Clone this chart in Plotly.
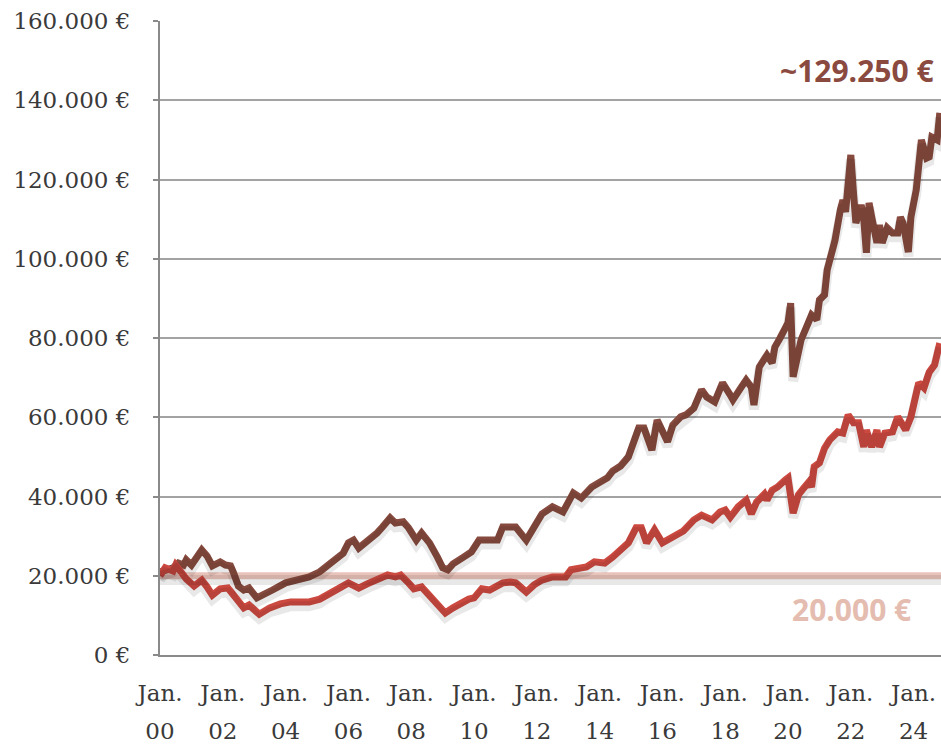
import plotly.graph_objects as go

# ---------------- data ----------------
brown_dates = [
    "2000-01", "2000-03", "2000-06", "2000-08", "2000-10", "2000-11", "2001-01", "2001-05", "2001-07", "2001-09",
    "2001-12", "2002-02", "2002-04", "2002-05", "2002-07", "2002-09", "2002-11", "2003-02", "2003-04", "2003-08",
    "2004-01", "2004-05", "2004-10", "2005-02", "2005-06", "2005-08", "2005-11", "2006-01", "2006-03", "2006-05",
    "2006-09", "2006-12", "2007-02", "2007-05", "2007-07", "2007-10", "2007-12", "2008-03", "2008-05", "2008-08",
    "2008-11", "2009-01", "2009-03", "2009-05", "2009-09", "2009-12", "2010-03", "2010-07", "2010-10", "2010-12",
    "2011-03", "2011-05", "2011-09", "2011-12", "2012-03", "2012-07", "2012-11", "2013-03", "2013-06", "2013-10",
    "2014-02", "2014-04", "2014-06", "2014-09", "2014-12", "2015-02", "2015-04", "2015-06", "2015-07", "2015-09",
    "2015-11", "2016-03", "2016-05", "2016-08", "2016-10", "2017-01", "2017-04", "2017-06", "2017-09", "2017-12",
    "2018-03", "2018-04", "2018-07", "2018-09", "2018-11", "2018-12", "2019-02", "2019-05", "2019-07", "2019-08",
    "2019-10", "2020-01", "2020-02", "2020-03", "2020-06", "2020-08", "2020-10", "2020-12", "2021-01", "2021-03",
    "2021-04", "2021-06", "2021-07", "2021-09", "2021-10", "2021-11", "2021-12", "2022-01", "2022-02", "2022-03",
    "2022-05", "2022-06", "2022-07", "2022-08", "2022-09", "2022-11", "2022-12", "2023-01", "2023-03", "2023-05",
    "2023-07", "2023-08", "2023-09", "2023-11", "2023-12", "2024-02", "2024-04", "2024-06", "2024-07", "2024-08",
    "2024-10", "2024-11",
]
brown_values = [
    21000, 21500, 22000, 23200, 22700, 24000, 22700, 26500, 25000, 22500,
    23500, 22700, 22500, 21000, 17400, 16400, 16900, 14400, 14900, 16400,
    18200, 18900, 19700, 21000, 23200, 24000, 25700, 28300, 29000, 27000,
    29000, 30800, 32300, 34600, 33300, 33600, 32100, 29000, 30800, 28300,
    24700, 22000, 21500, 23000, 24700, 26000, 29000, 29000, 29000, 32300,
    32300, 32300, 29000, 32300, 35600, 37400, 36100, 40900, 39600, 42400,
    43700, 44700, 46400, 47700, 50000, 53500, 57300, 57300, 55000, 51700,
    59300, 53800, 58000, 60100, 60600, 62300, 66900, 65100, 63900, 68700,
    65600, 64400, 67400, 69400, 67600, 63100, 72700, 75700, 73700, 77700,
    80000, 83800, 88800, 70200, 79500, 82800, 85800, 84600, 89600, 90900,
    97200, 102200, 104700, 112300, 114800, 111800, 119100, 126200, 116600, 109000,
    113600, 109800, 101500, 114100, 110500, 104000, 108500, 104000, 107800, 106500,
    106500, 110500, 109000, 101700, 110500, 117400, 130000, 125400, 125700, 130700,
    130000, 136800,
]

red_dates = [
    "2000-01", "2000-03", "2000-06", "2000-07", "2000-09", "2000-11", "2001-02", "2001-05", "2001-07", "2001-09",
    "2001-12", "2002-03", "2002-06", "2002-09", "2002-11", "2003-02", "2003-03", "2003-07", "2003-11", "2004-03",
    "2004-10", "2005-02", "2005-05", "2005-09", "2006-01", "2006-03", "2006-05", "2006-08", "2006-11", "2007-01",
    "2007-04", "2007-07", "2007-09", "2007-12", "2008-02", "2008-05", "2008-07", "2008-10", "2008-12", "2009-02",
    "2009-05", "2009-08", "2009-11", "2010-01", "2010-04", "2010-07", "2010-12", "2011-03", "2011-05", "2011-09",
    "2011-12", "2012-03", "2012-07", "2012-10", "2012-12", "2013-02", "2013-06", "2013-08", "2013-11", "2014-03",
    "2014-06", "2014-09", "2014-12", "2015-03", "2015-05", "2015-07", "2015-10", "2016-01", "2016-06", "2016-09",
    "2017-01", "2017-04", "2017-08", "2017-11", "2018-01", "2018-03", "2018-06", "2018-09", "2018-11", "2019-01",
    "2019-04", "2019-05", "2019-07", "2019-09", "2019-12", "2020-01", "2020-03", "2020-05", "2020-07", "2020-09",
    "2020-10", "2020-11", "2021-01", "2021-03", "2021-05", "2021-08", "2021-10", "2021-12", "2022-02", "2022-04",
    "2022-06", "2022-07", "2022-09", "2022-11", "2022-12", "2023-02", "2023-05", "2023-07", "2023-10", "2023-12",
    "2024-03", "2024-05", "2024-07", "2024-09", "2024-11",
]
red_values = [
    20000, 22000, 21200, 22700, 21000, 19200, 17400, 18900, 17200, 15100,
    16700, 16900, 14400, 11900, 12600, 10900, 10300, 11900, 12900, 13400,
    13400, 14100, 15400, 16700, 18200, 17700, 16900, 17900, 18700, 19200,
    20200, 19700, 20200, 18200, 16700, 17200, 15600, 13400, 11600, 10600,
    11900, 13100, 14100, 14400, 16700, 16400, 18200, 18400, 18200, 15900,
    17700, 18900, 19700, 19700, 19700, 21500, 22000, 22200, 23500, 23200,
    24700, 26500, 28300, 32100, 32100, 28300, 31600, 28300, 30000, 31300,
    34100, 35300, 34100, 36100, 36600, 34800, 37400, 39100, 35600, 38600,
    40600, 39100, 41600, 42400, 44200, 44700, 35800, 40400, 42100, 43700,
    42400, 47500, 48500, 52200, 54300, 56300, 56000, 60600, 58600, 58600,
    52500, 56800, 52500, 56800, 52500, 56000, 56300, 60100, 56800, 60100,
    68700, 67400, 71400, 73200, 78700,
]

start_capital = 20000
label_top = "~129.250 €"
label_bottom = "20.000 €"

y_tick_vals = [0, 20000, 40000, 60000, 80000, 100000, 120000, 140000, 160000]
y_tick_text = ["0 €", "20.000 €", "40.000 €", "60.000 €", "80.000 €",
               "100.000 €", "120.000 €", "140.000 €", "160.000 €"]
x_tick_vals = ["2000-01-01", "2002-01-01", "2004-01-01", "2006-01-01", "2008-01-01",
               "2010-01-01", "2012-01-01", "2014-01-01", "2016-01-01", "2018-01-01",
               "2020-01-01", "2022-01-01", "2024-01-01"]
x_tick_month = ["Jan."] * len(x_tick_vals)
x_tick_year = ["00", "02", "04", "06", "08", "10", "12", "14", "16", "18", "20", "22", "24"]

x_range = ["2000-01-01", "2024-11-15"]
y_range = [0, 160000]
shadow_shift = 1100  # shadow drawn a few pixels lower via an offset axis range

BROWN = "#864a3e"
RED = "#cc4940"
PINK = "#e8c3ba"
GRID = "#a3a3a3"
AXIS = "#8a8a8a"
TICKFONT = dict(family="DejaVu Serif", size=23, color="#3a3a3a")

fig = go.Figure()

# soft shadows
for xs, ys in [(x_range, [start_capital, start_capital]), (brown_dates, brown_values), (red_dates, red_values)]:
    fig.add_trace(go.Scatter(x=xs, y=ys, mode="lines", yaxis="y2",
                             line=dict(color="rgba(0,0,0,0.09)", width=10),
                             hoverinfo="skip", showlegend=False))

fig.add_trace(go.Scatter(x=x_range, y=[start_capital, start_capital], mode="lines",
                         line=dict(color=PINK, width=7), showlegend=False))
fig.add_trace(go.Scatter(x=brown_dates, y=brown_values, mode="lines",
                         line=dict(color=BROWN, width=7), showlegend=False))
fig.add_trace(go.Scatter(x=red_dates, y=red_values, mode="lines",
                         line=dict(color=RED, width=7), showlegend=False))

fig.update_layout(
    width=941, height=747,
    margin=dict(l=160, r=0, t=21, b=92, autoexpand=False),
    paper_bgcolor="white", plot_bgcolor="white",
    showlegend=False,
    xaxis=dict(type="date", range=x_range, tickmode="array", tickvals=x_tick_vals,
               ticktext=x_tick_month, showgrid=False, zeroline=False,
               showline=True, linecolor=AXIS, linewidth=2, ticks="",
               tickfont=TICKFONT, ticklabelstandoff=16),
    xaxis2=dict(type="date", range=x_range, overlaying="x", side="bottom",
                tickmode="array", tickvals=x_tick_vals, ticktext=x_tick_year,
                showgrid=False, zeroline=False, showline=False, ticks="",
                tickfont=TICKFONT, ticklabelstandoff=60),
    yaxis=dict(range=y_range, tickmode="array", tickvals=y_tick_vals, ticktext=y_tick_text,
               showgrid=True, gridcolor=GRID, gridwidth=1.5, zeroline=False,
               showline=True, linecolor=AXIS, linewidth=2,
               ticks="outside", ticklen=5, tickcolor=AXIS, tickwidth=1.5,
               tickfont=TICKFONT, ticklabelstandoff=18),
    yaxis2=dict(range=[y_range[0] + shadow_shift, y_range[1] + shadow_shift],
                overlaying="y", visible=False),
    annotations=[
        dict(text=label_top, xref="paper", yref="paper", x=0.9936, y=0.9227,
             xanchor="right", yanchor="middle", showarrow=False,
             font=dict(family="Open Sans", size=30, color="#8a4a40", weight="bold")),
        dict(text=label_bottom, xref="paper", yref="paper", x=0.964, y=0.071,
             xanchor="right", yanchor="middle", showarrow=False,
             font=dict(family="Open Sans", size=30, color="#e5bcb0", weight="bold")),
    ],
)
# invisible trace to activate xaxis2
fig.add_trace(go.Scatter(x=x_range, y=[None, None], xaxis="x2", mode="lines",
                         showlegend=False, hoverinfo="skip"))

page_css = ("document.documentElement.style.margin='0';document.body.style.margin='0';"
            "document.documentElement.style.overflow='hidden';document.body.style.overflow='hidden';")
fig.write_html("out.html", post_script=page_css, config={"displayModeBar": False})
